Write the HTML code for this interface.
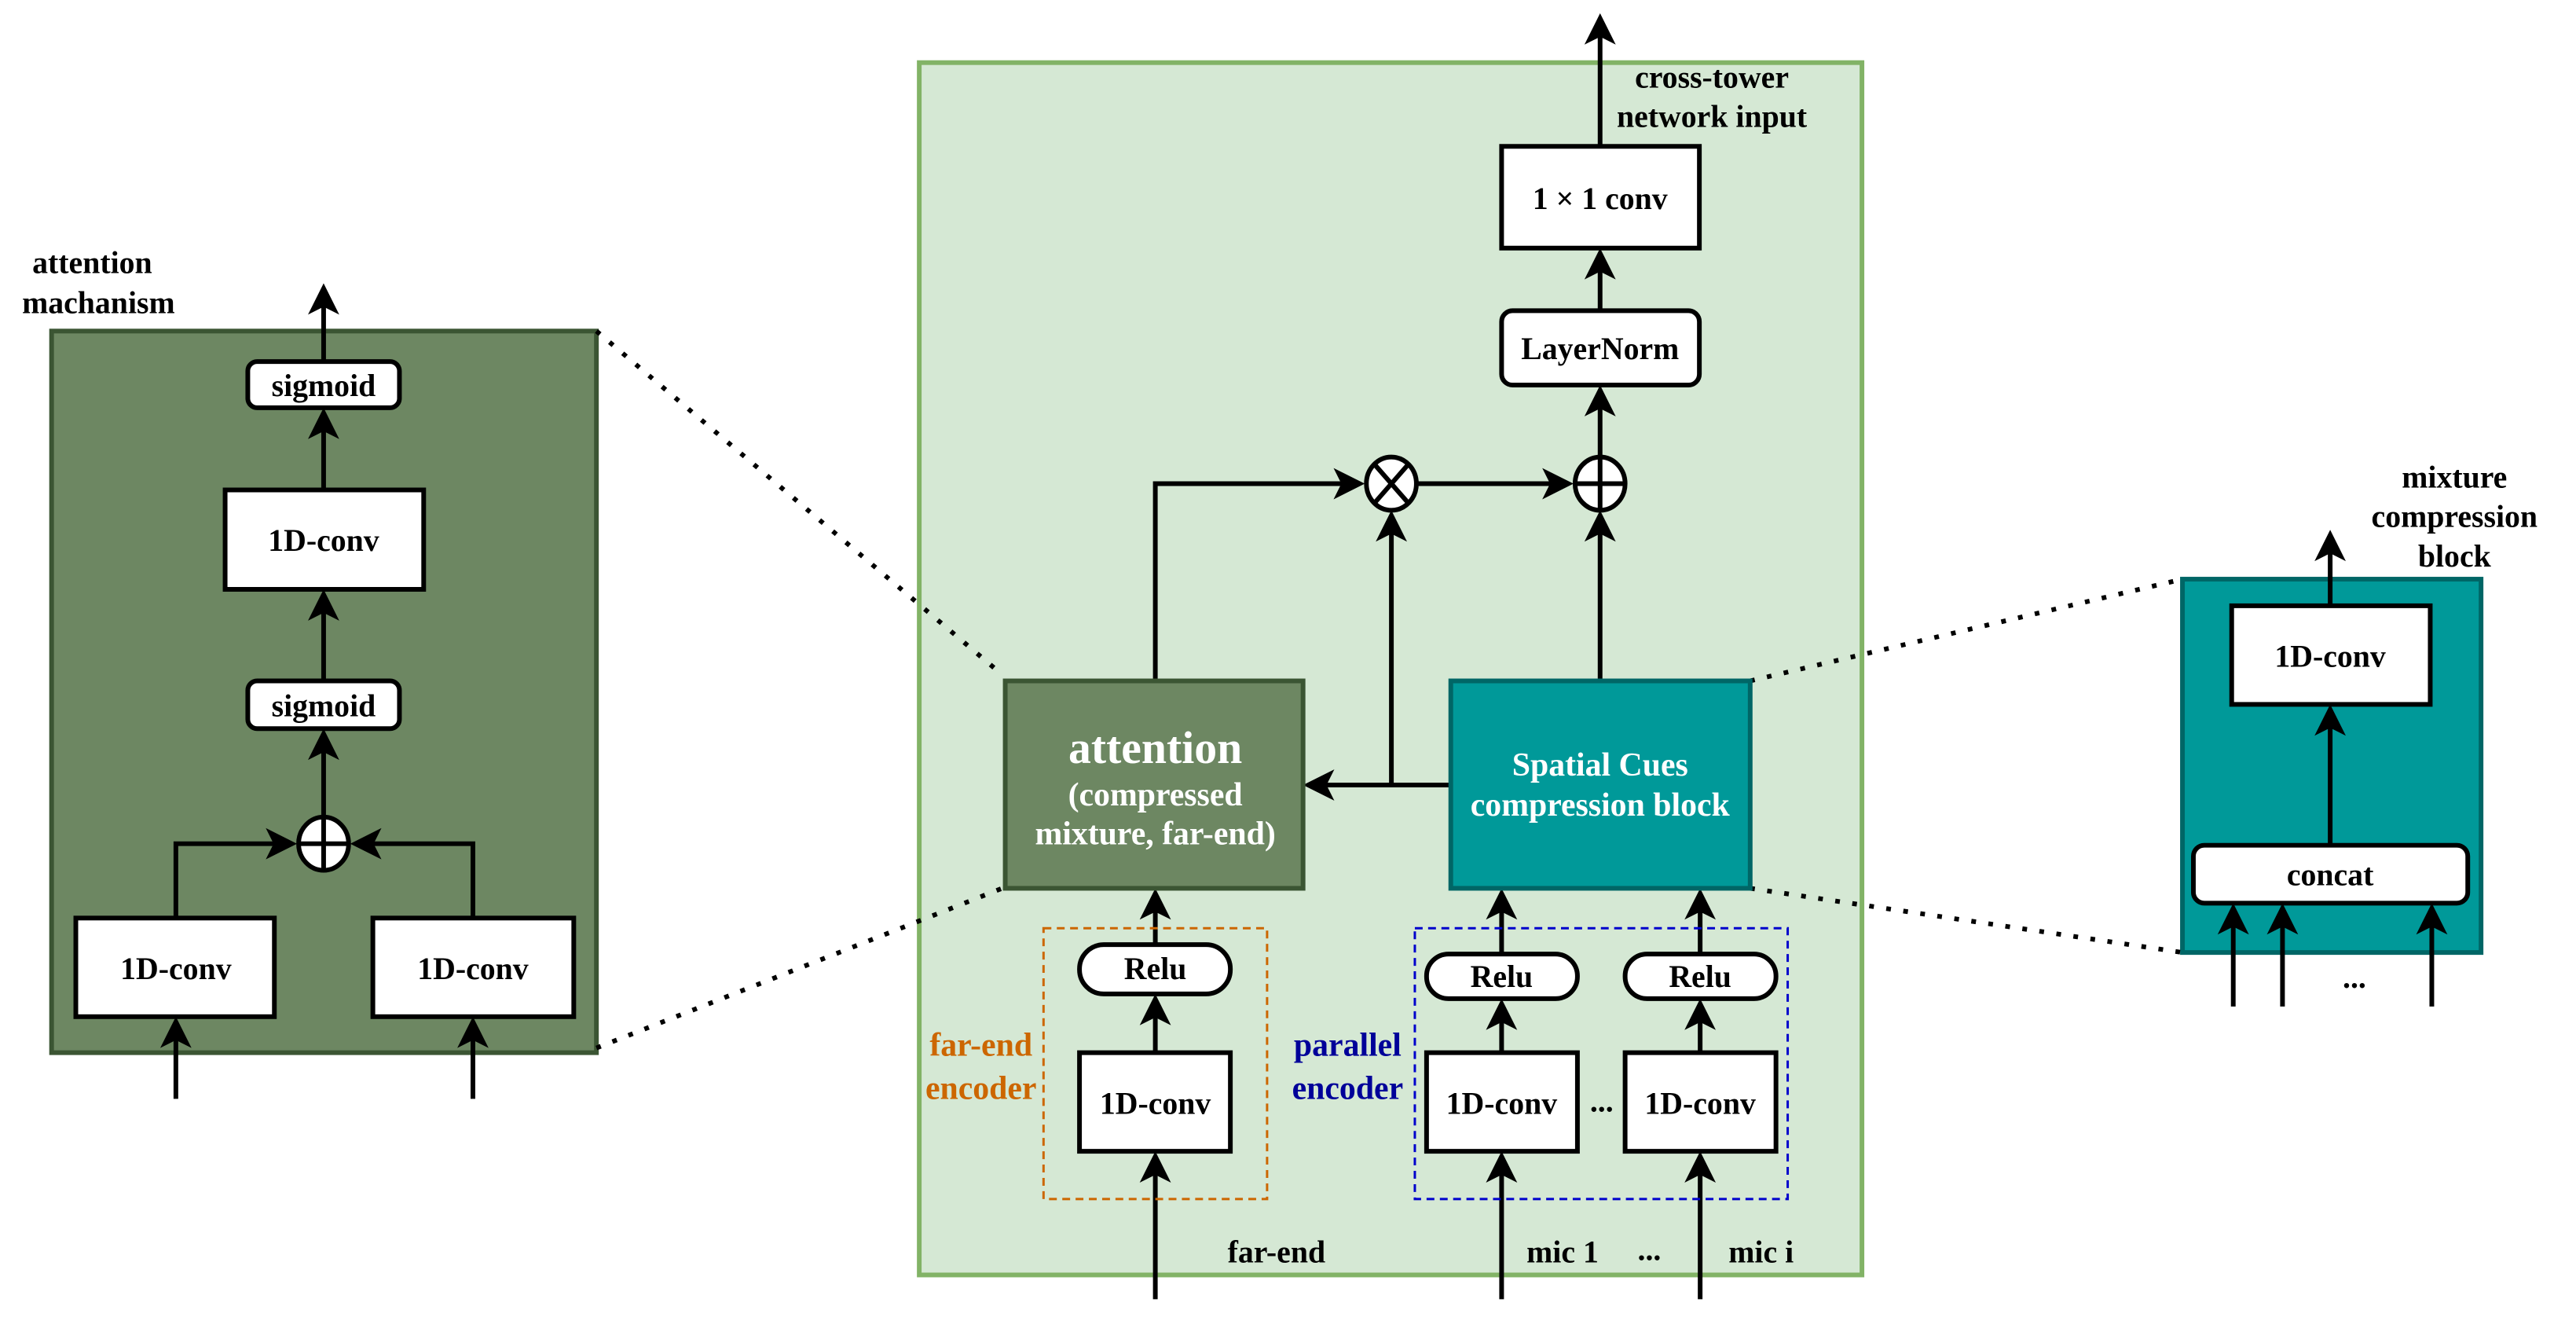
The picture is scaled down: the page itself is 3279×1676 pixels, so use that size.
<!DOCTYPE html>
<html><head><meta charset="utf-8"><style>
html,body{margin:0;padding:0;background:#fff}
svg{display:block;font-family:"Liberation Serif","DejaVu Serif",serif}
svg text{font-family:"Liberation Serif","DejaVu Serif",serif;font-weight:bold}
</style></head><body>
<svg width="3279" height="1676" viewBox="0 0 3279 1676" xmlns="http://www.w3.org/2000/svg" font-family="Liberation Serif, serif" font-weight="bold">
<g transform="scale(0.995,0.996)">
<!-- main panel -->
<rect x="1176" y="80" width="1206" height="1549" fill="#d5e8d4" stroke="#82b366" stroke-width="6"/>

<!-- left panel -->
<rect x="66" y="423" width="697" height="922" fill="#6d8762" stroke="#3b5533" stroke-width="6"/>
<!-- right panel -->
<rect x="2792" y="740" width="382" height="477" fill="#009999" stroke="#006666" stroke-width="6"/>

<!-- dotted zoom lines -->
<g stroke="#000" stroke-width="6" stroke-dasharray="6 16" fill="none">
<line x1="763" y1="423" x2="1282" y2="862"/>
<line x1="763" y1="1339" x2="1282" y2="1135"/>
<line x1="2239" y1="870" x2="2792" y2="740"/>
<line x1="2239" y1="1135" x2="2792" y2="1217"/>
</g>

<!-- lines -->
<g stroke="#000" stroke-width="6" fill="none">
<line x1="414" y1="462" x2="414" y2="380"/>
<line x1="414" y1="626" x2="414" y2="540"/>
<line x1="414" y1="870" x2="414" y2="772"/>
<line x1="414" y1="1044" x2="414" y2="950"/>
<polyline points="225,1173 225,1078 362,1078"/>
<polyline points="605,1173 605,1078 466,1078"/>
<line x1="225" y1="1404" x2="225" y2="1318"/>
<line x1="605" y1="1404" x2="605" y2="1318"/>
<line x1="2047" y1="187" x2="2047" y2="36"/>
<line x1="2047" y1="397" x2="2047" y2="336"/>
<line x1="2047" y1="584" x2="2047" y2="511"/>
<polyline points="1478,870 1478,618 1728,618"/>
<line x1="1814" y1="618" x2="1995" y2="618"/>
<line x1="2047" y1="870" x2="2047" y2="670"/>
<line x1="1856" y1="1003" x2="1686" y2="1003"/>
<line x1="1780" y1="1003" x2="1780" y2="670"/>
<line x1="1478" y1="1660" x2="1478" y2="1490"/>
<line x1="1478" y1="1345" x2="1478" y2="1289"/>
<line x1="1478" y1="1207" x2="1478" y2="1154"/>
<line x1="1921" y1="1660" x2="1921" y2="1490"/>
<line x1="1921" y1="1345" x2="1921" y2="1295"/>
<line x1="1921" y1="1219" x2="1921" y2="1154"/>
<line x1="2175" y1="1660" x2="2175" y2="1490"/>
<line x1="2175" y1="1345" x2="2175" y2="1295"/>
<line x1="2175" y1="1219" x2="2175" y2="1154"/>
<line x1="2981" y1="774" x2="2981" y2="696"/>
<line x1="2981" y1="1080" x2="2981" y2="918"/>
<line x1="2857" y1="1286" x2="2857" y2="1172"/>
<line x1="2920" y1="1286" x2="2920" y2="1172"/>
<line x1="3111" y1="1286" x2="3111" y2="1172"/>
</g>

<g fill="#000">
<path d="M414,362 l-20,40 l20,-10 l20,10z"/>
<path d="M414,521 l-20,40 l20,-10 l20,10z"/>
<path d="M414,753 l-20,40 l20,-10 l20,10z"/>
<path d="M414,931 l-20,40 l20,-10 l20,10z"/>
<path d="M225,1299 l-20,40 l20,-10 l20,10z"/>
<path d="M605,1299 l-20,40 l20,-10 l20,10z"/>
<path d="M380,1078 l-40,-20 l10,20 l-10,20z"/>
<path d="M448,1078 l40,-20 l-10,20 l10,20z"/>
<path d="M2047,17 l-20,40 l20,-10 l20,10z"/>
<path d="M2047,317 l-20,40 l20,-10 l20,10z"/>
<path d="M2047,492 l-20,40 l20,-10 l20,10z"/>
<path d="M2047,652 l-20,40 l20,-10 l20,10z"/>
<path d="M1780,652 l-20,40 l20,-10 l20,10z"/>
<path d="M1746,618 l-40,-20 l10,20 l-10,20z"/>
<path d="M2013,618 l-40,-20 l10,20 l-10,20z"/>
<path d="M1667,1003 l40,-20 l-10,20 l10,20z"/>
<path d="M1478,1135 l-20,40 l20,-10 l20,10z"/>
<path d="M1478,1270 l-20,40 l20,-10 l20,10z"/>
<path d="M1478,1471 l-20,40 l20,-10 l20,10z"/>
<path d="M1921,1135 l-20,40 l20,-10 l20,10z"/>
<path d="M1921,1276 l-20,40 l20,-10 l20,10z"/>
<path d="M1921,1471 l-20,40 l20,-10 l20,10z"/>
<path d="M2175,1135 l-20,40 l20,-10 l20,10z"/>
<path d="M2175,1276 l-20,40 l20,-10 l20,10z"/>
<path d="M2175,1471 l-20,40 l20,-10 l20,10z"/>
<path d="M2981,677 l-20,40 l20,-10 l20,10z"/>
<path d="M2981,900 l-20,40 l20,-10 l20,10z"/>
<path d="M2857,1154 l-20,40 l20,-10 l20,10z"/>
<path d="M2920,1154 l-20,40 l20,-10 l20,10z"/>
<path d="M3111,1154 l-20,40 l20,-10 l20,10z"/>
</g>

<g stroke="#000" stroke-width="6" fill="#fff">
<rect x="317" y="462" width="194" height="59" rx="12"/>
<rect x="288" y="626" width="254" height="127"/>
<rect x="317" y="870" width="194" height="61" rx="12"/>
<rect x="97" y="1173" width="254" height="126"/>
<rect x="477" y="1173" width="257" height="126"/>
<ellipse cx="414" cy="1078" rx="32" ry="34"/>
<rect x="1921" y="187" width="253" height="130"/>
<rect x="1921" y="397" width="253" height="95" rx="14"/>
<ellipse cx="1780" cy="618" rx="32" ry="34"/>
<ellipse cx="2047" cy="618" rx="32" ry="34"/>
<rect x="1381" y="1207" width="193" height="63" rx="31"/>
<rect x="1381" y="1345" width="193" height="126"/>
<rect x="1825" y="1219" width="193" height="57" rx="28"/>
<rect x="2079" y="1219" width="193" height="57" rx="28"/>
<rect x="1825" y="1345" width="193" height="126"/>
<rect x="2079" y="1345" width="193" height="126"/>
<rect x="2855" y="774" width="254" height="126"/>
<rect x="2806" y="1080" width="351" height="74" rx="14"/>
</g>
<g stroke="#000" stroke-width="6">
<line x1="382" y1="1078" x2="446" y2="1078"/><line x1="414" y1="1044" x2="414" y2="1112"/>
<line x1="2015" y1="618" x2="2079" y2="618"/><line x1="2047" y1="584" x2="2047" y2="652"/>
<line x1="1759" y1="594" x2="1801" y2="642"/><line x1="1801" y1="594" x2="1759" y2="642"/>
</g>

<rect x="1286" y="870" width="381" height="265" fill="#6d8762" stroke="#3b5533" stroke-width="6"/>
<rect x="1856" y="870" width="383" height="265" fill="#009999" stroke="#006666" stroke-width="6"/>

<rect x="1335" y="1186" width="286" height="346" fill="none" stroke="#cc6600" stroke-width="3" stroke-dasharray="10 7"/>
<rect x="1810" y="1186" width="477" height="346" fill="none" stroke="#0000cc" stroke-width="3" stroke-dasharray="10 7"/>

<g font-size="40" text-anchor="middle" fill="#000">
<text x="118" y="349">attention</text>
<text x="126" y="400">machanism</text>
<text x="414" y="506">sigmoid</text>
<text x="414" y="704">1D-conv</text>
<text x="414" y="915">sigmoid</text>
<text x="225" y="1251">1D-conv</text>
<text x="605" y="1251">1D-conv</text>
<text x="2190" y="112">cross-tower</text>
<text x="2190" y="162">network input</text>
<text x="2047" y="267">1 × 1 conv</text>
<text x="2047" y="459">LayerNorm</text>
<text x="1478" y="1251">Relu</text>
<text x="1478" y="1423">1D-conv</text>
<text x="1921" y="1261">Relu</text>
<text x="2175" y="1261">Relu</text>
<text x="1921" y="1423">1D-conv</text>
<text x="2175" y="1423">1D-conv</text>
<text x="2049" y="1420">...</text>
<text x="1633" y="1613">far-end</text>
<text x="1999" y="1613">mic 1</text>
<text x="2110" y="1610">...</text>
<text x="2253" y="1613">mic i</text>
<text x="3140" y="623">mixture</text>
<text x="3140" y="673">compression</text>
<text x="3140" y="724">block</text>
<text x="2981" y="852">1D-conv</text>
<text x="2981" y="1131">concat</text>
<text x="3012" y="1262">...</text>
</g>
<g font-size="42" text-anchor="middle" fill="#cc6600">
<text x="1255" y="1349">far-end</text>
<text x="1255" y="1404">encoder</text>
</g>
<g font-size="42" text-anchor="middle" fill="#000099">
<text x="1724" y="1349">parallel</text>
<text x="1724" y="1404">encoder</text>
</g>
<g text-anchor="middle" fill="#fff">
<text x="1478" y="975" font-size="58">attention</text>
<text x="1478" y="1029" font-size="42">(compressed</text>
<text x="1478" y="1079" font-size="42">mixture, far-end)</text>
<text x="2047" y="991" font-size="42">Spatial Cues</text>
<text x="2047" y="1042" font-size="42">compression block</text>
</g>
</g>
</svg>
</body></html>
